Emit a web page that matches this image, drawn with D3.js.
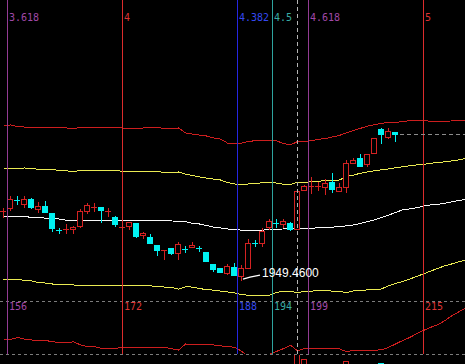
<!DOCTYPE html>
<html>
<head>
<meta charset="utf-8">
<script src="https://cdn.jsdelivr.net/npm/d3@7"></script>
<style>
  html, body { margin: 0; padding: 0; background: #000; }
  svg { display: block; }
</style>
</head>
<body>
<div id="chart"></div>
<script>
// daily candles (price)
var opens  = [2173,2184,2210,2197,2213,2181,2191,2168,2111,2114,2116,2126,2174,2186,2187,2173,2155,2121,2126,2135,
              2096,2090,2064,2046,2054,2038,2051,2057,2054,2041,2002,1989,1973,1992,1963,1989,2070,2070,2122,2135,
              2132,2135,2116,2243,2254,2254,2252,2269,2239,2252,2330,2347,2327,2363,2441,2415,2431];
var highs  = [2184,2223,2223,2223,2217,2204,2207,2169,2119,2132,2126,2181,2200,2200,2188,2184,2158,2132,2139,2136,
              2106,2100,2065,2049,2055,2074,2061,2074,2061,2042,2003,1990,2002,2005,1999,2083,2080,2119,2148,2148,
              2148,2139,2240,2259,2285,2269,2278,2298,2265,2340,2347,2360,2360,2412,2444,2444,2432];
var lows   = [2155,2178,2197,2187,2184,2171,2171,2109,2103,2103,2103,2122,2168,2174,2139,2158,2126,2113,2116,2090,
              2087,2070,2031,2018,2035,2018,2041,2056,2044,2012,1979,1976,1970,1966,1949.46,1988,2061,2061,2116,2122,
              2122,2113,2115,2242,2233,2243,2230,2236,2238,2236,2329,2321,2321,2362,2395,2412,2402];
var closes = [2174,2213,2208,2213,2187,2191,2171,2119,2109,2116,2122,2174,2194,2187,2178,2174,2132,2122,2139,2093,
              2103,2070,2048,2048,2038,2067,2049,2064,2052,2012,1986,1976,1996,1966,1989,2070,2069,2109,2142,2134,
              2142,2116,2239,2256,2256,2256,2265,2246,2252,2330,2340,2321,2360,2411,2425,2434,2425];

// band lines (one value per bar slot, runs past the last candle)
var upperRed = [2450,2454,2449,2447,2447,2447,2447,2447,2447,2444,2442,2446,2446,2446,2446,2446,2446,2444,2441,2442,
                2444,2445,2445,2443,2443,2444,2428,2424,2421,2418,2412,2408,2395,2395,2395,2400,2403,2403,2403,2402,
                2394,2389,2400,2400,2403,2407,2410,2415,2420,2428,2436,2443,2450,2455,2459,2462,2463,2464,2468,2469,
                2470,2465,2465,2465,2467,2468,2470];
var upperYellow = [2313,2313,2313,2314,2312,2310,2310,2310,2305,2305,2302,2306,2306,2306,2306,2306,2306,2303,2302,2302,
                   2302,2302,2302,2300,2300,2301,2294,2290,2285,2281,2278,2275,2267,2262,2261,2262,2264,2266,2268,2265,
                   2261,2260,2268,2268,2269,2271,2273,2274,2275,2286,2291,2297,2301,2305,2308,2311,2315,2318,2321,2324,
                   2326,2329,2332,2334,2337,2340,2345];
var midLine = [2157,2157,2157,2157,2153,2153,2151,2151,2148,2144,2144,2144,2144,2144,2144,2144,2144,2143,2143,2143,
               2143,2142,2142,2142,2142,2140,2140,2134,2132,2127,2122,2119,2116,2114,2112,2110,2111,2112,2114,2114,
               2116,2116,2116,2117,2118,2120,2121,2122,2123,2126,2129,2134,2140,2145,2153,2161,2169,2178,2181,2185,
               2190,2194,2196,2199,2204,2208,2212];
var lowerYellow = [1950,1953,1953,1948,1947,1942,1940,1937,1937,1935,1934,1931,1931,1931,1931,1931,1931,1931,1931,1931,
                   1931,1931,1929,1927,1926,1920,1928,1927,1922,1919,1917,1914,1911,1908,1903,1900,1899,1900,1901,1909,
                   1914,1913,1909,1913,1914,1915,1915,1914,1913,1909,1915,1916,1918,1919,1921,1931,1939,1945,1953,1961,
                   1970,1979,1987,1996,2002,2009,2015];
var lowerRed = [1757,1757,1763,1758,1755,1754,1753,1750,1746,1746,1749,1739,1733,1733,1728,1728,1728,1731,1731,1731,
                1731,1731,1731,1731,1727,1722,1742,1740,1739,1739,1739,1736,1734,1731,1719,1700,1690,1697,1708,1718,
                1727,1738,1720,1727,1727,1726,1726,1726,1726,1717,1722,1722,1722,1722,1723,1731,1742,1753,1763,1775,
                1786,1796,1804,1817,1833,1846,1858];

// fibonacci time zones
var fibRatios = [3.618, 4, 4.382, 4.5, 4.618, 5];
var fibLabels = ["3.618", "4", "4.382", "4.5", "4.618", "5"];
var fibBars   = ["156", "172", "188", "194", "199", "215"];
var fibColors = ["#943c94", "#dc2c2c", "#2626e0", "#2ea49e", "#943c94", "#dc2c2c"];
var fibText   = ["#a048a8", "#dc3434", "#3448f0", "#38aca4", "#a048a8", "#dc3434"];

// volume tops that poke into view
var volIdx = [42, 43, 49, 54];
var volValues = [105, 95, 92, 89];

var markIdx = 42;
var lowText = "1949.4600";

var W = 465, H = 364;
var red = "#d42222", cyan = "#00f2f2";

var svg = d3.select("#chart").append("svg")
  .attr("width", W).attr("height", H)
  .style("background", "#000");

var x = d3.scaleLinear().domain([0, 66]).range([3, 465]);
var y = d3.scaleLinear().domain([2860, 2860 - 3.25 * H]).range([0, H]);
var xr = d3.scaleLinear().domain([3.618, 5]).range([7, 423]);
var vy = d3.scaleLinear().domain([0, 100]).range([420, 356]);

var defs = svg.append("defs");
defs.append("clipPath").attr("id", "main").append("rect")
  .attr("x", 0).attr("y", 0).attr("width", W).attr("height", 354);
defs.append("clipPath").attr("id", "vol").append("rect")
  .attr("x", 0).attr("y", 355).attr("width", W).attr("height", 9);

var g = svg.append("g").attr("clip-path", "url(#main)");

// dashed grid lines
[301.5, 354.5].forEach(function(yy) {
  svg.append("line").attr("x1", 0).attr("x2", W).attr("y1", yy).attr("y2", yy)
    .attr("stroke", "#7c7c7c").attr("stroke-dasharray", "3,3");
});

// bands
var line = d3.line().x(function(d, i) { return x(i) + 0.5; }).y(function(d) { return y(d); });
[[upperRed, "#cc1e1e"], [upperYellow, "#eaea52"], [midLine, "#f8f8f8"],
 [lowerYellow, "#eaea52"], [lowerRed, "#cc1e1e"]].forEach(function(b) {
  g.append("path").datum(b[0]).attr("d", line)
    .attr("fill", "none").attr("stroke", b[1]).attr("stroke-width", 1)
    .attr("shape-rendering", "crispEdges");
});

// vertical zone lines
fibRatios.forEach(function(r, k) {
  var xx = Math.round(xr(r)) + 0.5;
  svg.append("line").attr("x1", xx).attr("x2", xx).attr("y1", 0).attr("y2", 354)
    .attr("stroke", fibColors[k]).attr("stroke-width", 1);
  svg.append("text").attr("x", xx + 1.5).attr("y", 21).text(fibLabels[k])
    .attr("fill", fibText[k]).style("font", "10px 'DejaVu Sans Mono', monospace");
  svg.append("text").attr("x", xx + 1.5).attr("y", 310).text(fibBars[k])
    .attr("fill", fibText[k]).style("font", "10px 'DejaVu Sans Mono', monospace");
});

var mx = x(markIdx) + 0.5;
svg.append("line").attr("x1", mx).attr("x2", mx).attr("y1", 0).attr("y2", 354)
  .attr("stroke", "#b4b4b4").attr("stroke-dasharray", "4,3");

// candles
var cg = g.append("g").attr("shape-rendering", "crispEdges");
opens.forEach(function(o, i) {
  var c = closes[i], cx = Math.round(x(i));
  var up = c >= o;
  var col = up ? red : cyan;
  var top = Math.round(y(Math.max(o, c))), bot = Math.round(y(Math.min(o, c)));
  var hi = Math.round(y(highs[i])), lo = Math.round(y(lows[i]));
  cg.append("line").attr("x1", cx + 0.5).attr("x2", cx + 0.5)
    .attr("y1", hi).attr("y2", lo + 1).attr("stroke", col);
  if (bot - top < 2) {
    cg.append("line").attr("x1", cx - 3).attr("x2", cx + 3)
      .attr("y1", top + 0.5).attr("y2", top + 0.5).attr("stroke", col);
  } else if (up) {
    cg.append("rect").attr("x", cx - 2.5).attr("y", top + 0.5)
      .attr("width", 5).attr("height", bot - top)
      .attr("fill", "#000").attr("stroke", col);
  } else {
    cg.append("rect").attr("x", cx - 3).attr("y", top)
      .attr("width", 6).attr("height", bot - top + 1).attr("fill", col);
  }
});

// last price
var lastY = Math.round(y(closes[closes.length - 1])) + 0.5;
svg.append("line").attr("x1", x(closes.length - 1) + 5).attr("x2", W)
  .attr("y1", lastY).attr("y2", lastY)
  .attr("stroke", "#8c8c8c").attr("stroke-dasharray", "4,3");

// lowest low marker
var lowI = d3.minIndex(lows);
var lx = x(lowI), ly = y(lows[lowI]);
svg.append("path")
  .attr("d", "M" + (lx + 2) + "," + (ly - 1) + "L" + (lx + 9) + "," + (ly - 3) + "L" + (lx + 19) + "," + (ly - 5))
  .attr("fill", "none").attr("stroke", "#fff").attr("stroke-width", 1.2);
svg.append("text").attr("x", lx + 21).attr("y", ly - 3).text(lowText)
  .attr("fill", "#fff").style("font", "12px 'Liberation Sans', Arial, sans-serif");

// volume tops
var vg = svg.append("g").attr("clip-path", "url(#vol)").attr("shape-rendering", "crispEdges");
volIdx.forEach(function(i, k) {
  var cx = Math.round(x(i)), top = Math.round(vy(volValues[k]));
  if (closes[i] >= opens[i]) {
    vg.append("rect").attr("x", cx - 2.5).attr("y", top + 0.5).attr("width", 5).attr("height", 40)
      .attr("fill", "#000").attr("stroke", red);
  } else {
    vg.append("rect").attr("x", cx - 3).attr("y", top).attr("width", 6).attr("height", 40).attr("fill", cyan);
  }
});
</script>
</body>
</html>
